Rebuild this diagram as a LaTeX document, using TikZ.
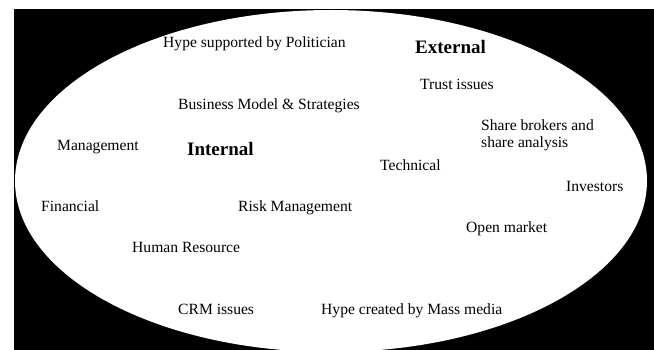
\documentclass[tikz,border=0pt]{standalone}
\usepackage{fontspec}
\setmainfont{Liberation Serif}
\tikzset{
  lbl/.style={anchor=base west, inner sep=0pt, font=\fontsize{15.6}{17}\selectfont},
  head/.style={anchor=base west, inner sep=0pt, font=\fontsize{19}{21}\selectfont\bfseries},
}
\begin{document}
\begin{tikzpicture}[x=1pt,y=-1pt]
\useasboundingbox (0,0) rectangle (654,350);
\fill[white] (0,0) rectangle (654,350);
\fill[black] (14,9) rectangle (654,350);
\fill[white] (331,181) ellipse [x radius=316pt, y radius=171pt];

\node[lbl] (hypepol) at (163,48) {Hype supported by Politician};
\node[head] (ext) at (415,54) {External};
\node[lbl] (trust) at (420,90) {Trust issues};
\node[lbl] (bms) at (178,110) {Business Model \& Strategies};
\node[lbl, anchor=west, align=left] (share) at (481,135) {Share brokers and\\share analysis};
\node[lbl] (mgmt) at (57,151) {Management};
\node[head] (int) at (187,156) {Internal};
\node[lbl] (tech) at (380,171) {Technical};
\node[lbl] (inv) at (566,192) {Investors};
\node[lbl] (fin) at (41,212) {Financial};
\node[lbl] (risk) at (238,212) {Risk Management};
\node[lbl] (open) at (466,233) {Open market};
\node[lbl] (hr) at (132,252) {Human Resource};
\node[lbl] (crm) at (178,314) {CRM issues};
\node[lbl] (hypemm) at (321,314) {Hype created by Mass media};
\end{tikzpicture}
\end{document}
